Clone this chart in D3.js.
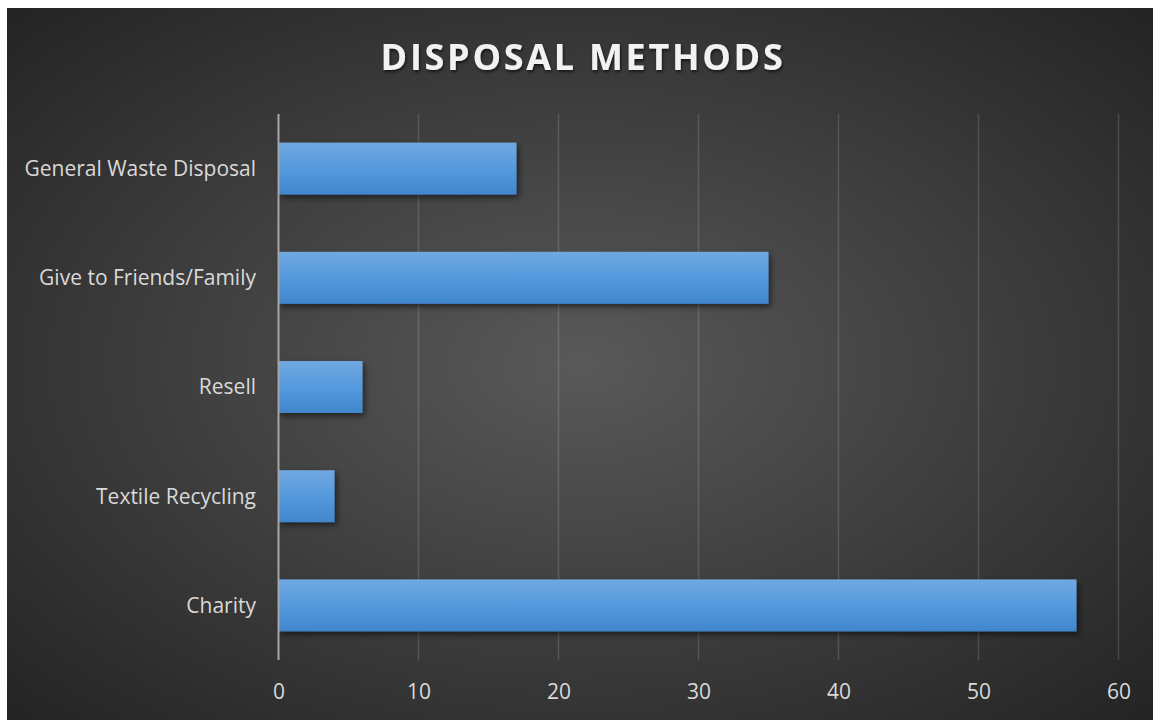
<!DOCTYPE html>
<html>
<head>
<meta charset="utf-8">
<script src="https://cdn.jsdelivr.net/npm/d3@7"></script>
<style>
  body { margin: 0; background: #fff; }
  svg { display: block; }
</style>
</head>
<body>
<svg id="chart"></svg>
<script>
var categories = ["General Waste Disposal", "Give to Friends/Family", "Resell", "Textile Recycling", "Charity"];
var values = [17, 35, 6, 4, 57];
var xTicks = [0, 10, 20, 30, 40, 50, 60];
var title = "DISPOSAL METHODS";

var width = 1153, height = 720;
var margin = { top: 114, right: 34.5, bottom: 60, left: 278.5 };

var svg = d3.select("#chart").attr("width", width).attr("height", height);
var defs = svg.append("defs");

// background gradient
var bg = defs.append("radialGradient").attr("id", "bg")
  .attr("cx", "50%").attr("cy", "50%").attr("r", "70%");
bg.append("stop").attr("offset", "0%").attr("stop-color", "#595959");
bg.append("stop").attr("offset", "100%").attr("stop-color", "#242424");

var barGrad = defs.append("linearGradient").attr("id", "barGrad")
  .attr("x1", 0).attr("y1", 0).attr("x2", 0).attr("y2", 1);
barGrad.append("stop").attr("offset", "0%").attr("stop-color", "#70a8e0");
barGrad.append("stop").attr("offset", "50%").attr("stop-color", "#559ade");
barGrad.append("stop").attr("offset", "100%").attr("stop-color", "#4186cc");

var shadow = defs.append("filter").attr("id", "shadow")
  .attr("x", "-10%").attr("y", "-20%").attr("width", "130%").attr("height", "160%");
shadow.append("feDropShadow").attr("dx", 2).attr("dy", 3).attr("stdDeviation", 3)
  .attr("flood-color", "#000").attr("flood-opacity", 0.55);

var titleShadow = defs.append("filter").attr("id", "tshadow")
  .attr("x", "-5%").attr("y", "-20%").attr("width", "110%").attr("height", "160%");
titleShadow.append("feDropShadow").attr("dx", 1).attr("dy", 2).attr("stdDeviation", 1.5)
  .attr("flood-color", "#000").attr("flood-opacity", 0.6);

svg.append("rect").attr("x", 7).attr("y", 8).attr("width", 1146).attr("height", 712)
  .attr("fill", "url(#bg)");

var x = d3.scaleLinear().domain([0, 60]).range([margin.left, width - margin.right]);
var y = d3.scaleBand().domain(categories)
  .range([margin.top, height - margin.bottom]).paddingInner(0.524).paddingOuter(0.262);

// gridlines
svg.append("g")
  .selectAll("line")
  .data(xTicks.slice(1))
  .join("line")
  .attr("x1", d => x(d)).attr("x2", d => x(d))
  .attr("y1", margin.top).attr("y2", height - margin.bottom)
  .attr("stroke", "#ffffff").attr("stroke-opacity", 0.14).attr("stroke-width", 1.5);

// bars
svg.append("g")
  .attr("filter", "url(#shadow)")
  .selectAll("rect")
  .data(values)
  .join("rect")
  .attr("x", x(0))
  .attr("y", (d, i) => y(categories[i]))
  .attr("width", d => x(d) - x(0))
  .attr("height", y.bandwidth())
  .attr("fill", "url(#barGrad)");

// y axis line
svg.append("line")
  .attr("x1", x(0)).attr("x2", x(0))
  .attr("y1", margin.top).attr("y2", height - margin.bottom)
  .attr("stroke", "#a6a6a6").attr("stroke-width", 2);

// category labels
svg.append("g")
  .selectAll("text")
  .data(categories)
  .join("text")
  .attr("x", x(0) - 22.5)
  .attr("y", d => y(d) + y.bandwidth() / 2)
  .attr("dy", "0.35em")
  .attr("text-anchor", "end")
  .attr("font-family", "'Open Sans', sans-serif")
  .attr("font-size", "21px")
  .attr("fill", "#d9d9d9")
  .text(d => d);

// x axis labels
var xAxis = d3.axisBottom(x).tickValues(xTicks).tickSize(0).tickPadding(24);
var gx = svg.append("g")
  .attr("transform", `translate(0,${height - margin.bottom})`)
  .call(xAxis);
gx.select(".domain").remove();
gx.selectAll("text")
  .attr("font-family", "'Open Sans', sans-serif")
  .attr("font-size", "21px")
  .attr("fill", "#d9d9d9");

// title
svg.append("text")
  .attr("x", 583)
  .attr("y", 70)
  .attr("text-anchor", "middle")
  .attr("font-family", "'Open Sans', sans-serif")
  .attr("font-weight", "bold")
  .attr("font-size", "36px")
  .attr("letter-spacing", "2.7px")
  .attr("fill", "#f2f2f2")
  .attr("filter", "url(#tshadow)")
  .text(title);
</script>
</body>
</html>
